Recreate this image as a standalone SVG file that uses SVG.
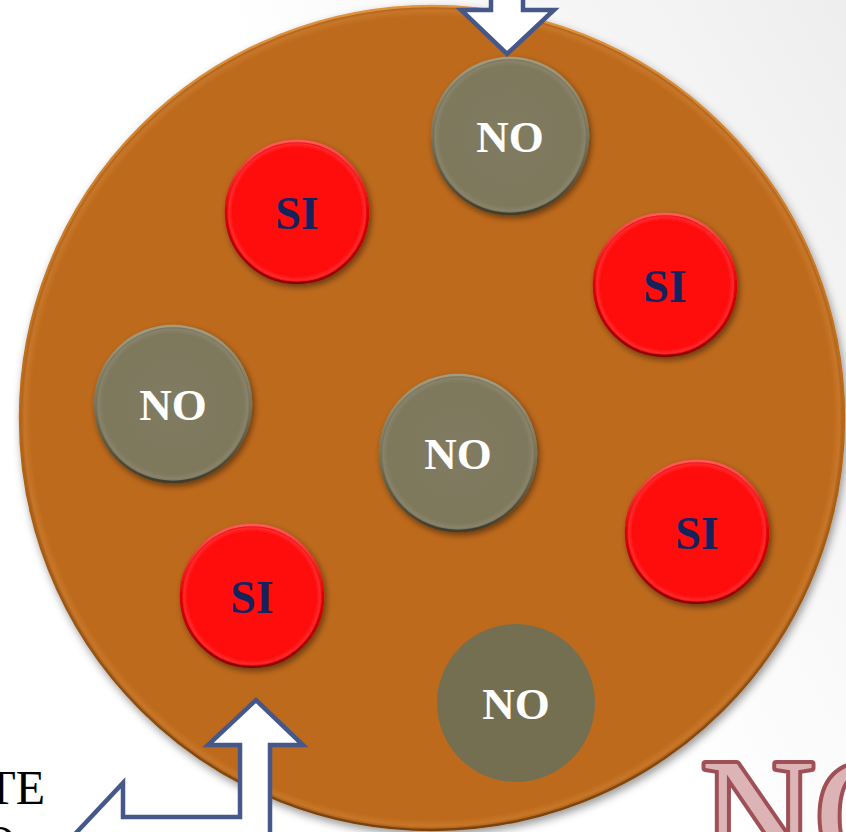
<svg xmlns="http://www.w3.org/2000/svg" width="846" height="832" viewBox="0 0 846 832">
  <defs>
    <linearGradient id="bg" x1="0" y1="0.6" x2="1" y2="0">
      <stop offset="0.45" stop-color="#FFFFFF"/>
      <stop offset="1" stop-color="#EEEEEE"/>
    </linearGradient>
    <radialGradient id="plate" cx="0.5" cy="0.5" r="0.5">
      <stop offset="0" stop-color="#BE6B1B"/>
      <stop offset="0.975" stop-color="#BE6B1B"/>
      <stop offset="0.99" stop-color="#C7762A"/>
      <stop offset="1" stop-color="#A35A14"/>
    </radialGradient>
    <linearGradient id="plateEdge" x1="0" y1="0" x2="0" y2="1">
      <stop offset="0" stop-color="#E0923F"/>
      <stop offset="0.5" stop-color="#B86818"/>
      <stop offset="1" stop-color="#7A420E"/>
    </linearGradient>
    <radialGradient id="gray" cx="0.5" cy="0.5" r="0.5">
      <stop offset="0" stop-color="#807B5F"/>
      <stop offset="0.9" stop-color="#7E795D"/>
      <stop offset="0.96" stop-color="#88836A"/>
      <stop offset="1" stop-color="#6A654B"/>
    </radialGradient>
    <radialGradient id="red" cx="0.5" cy="0.5" r="0.5">
      <stop offset="0" stop-color="#FF0A0A"/>
      <stop offset="0.9" stop-color="#FF0A0A"/>
      <stop offset="0.96" stop-color="#FF2A2A"/>
      <stop offset="1" stop-color="#D80000"/>
    </radialGradient>
    <linearGradient id="grayEdge" x1="0" y1="0" x2="0" y2="1">
      <stop offset="0" stop-color="#A29D80"/>
      <stop offset="0.5" stop-color="#7A7559"/>
      <stop offset="1" stop-color="#3F3C2B"/>
    </linearGradient>
    <linearGradient id="redEdge" x1="0" y1="0" x2="0" y2="1">
      <stop offset="0" stop-color="#FF5A5A"/>
      <stop offset="0.5" stop-color="#E00000"/>
      <stop offset="1" stop-color="#8A0000"/>
    </linearGradient>
    <filter id="shadow" x="-20%" y="-20%" width="140%" height="140%">
      <feDropShadow dx="2" dy="3" stdDeviation="3" flood-color="#000000" flood-opacity="0.45"/>
    </filter>
    <filter id="bigShadow" x="-10%" y="-10%" width="120%" height="120%">
      <feDropShadow dx="2" dy="4" stdDeviation="4" flood-color="#000000" flood-opacity="0.4"/>
    </filter>
  </defs>
  <style>
    .no { fill: url(#gray); stroke: url(#grayEdge); stroke-width: 2.5; filter: url(#shadow); }
    .si { fill: url(#red); stroke: url(#redEdge); stroke-width: 2.5; filter: url(#shadow); }
    .flat { fill: #756F52; }
    .tno { font-family: "Liberation Serif", "Times New Roman", serif; font-weight: bold; font-size: 45px; fill: #FFFFFF; text-anchor: middle; }
    .tsi { font-family: "Liberation Serif", "Times New Roman", serif; font-weight: bold; font-size: 46px; fill: #14235E; text-anchor: middle; }
    .arrow { fill: #FFFFFF; stroke: #46588A; stroke-width: 4.5; stroke-linejoin: miter; }
    .side { font-family: "Liberation Serif", "Times New Roman", serif; font-size: 48px; fill: #000000; text-anchor: end; }
    .big { font-family: "Liberation Serif", "Times New Roman", serif; font-size: 158px; fill: #DDB4B6; stroke: #9E5056; stroke-width: 8; stroke-linejoin: round; paint-order: stroke; }
  </style>

  <rect x="0" y="0" width="846" height="832" fill="url(#bg)"/>

  <g id="side-text">
    <text class="side" x="45" y="804">TE</text>
    <text class="side" x="16" y="859">O</text>
  </g>

  <g id="big-no">
    <text class="big" x="701" y="868">NO</text>
  </g>

  <g id="plate">
    <circle cx="432" cy="418" r="412" fill="url(#plate)" stroke="url(#plateEdge)" stroke-width="2.5" filter="url(#bigShadow)"/>
  </g>

  <g id="no-top">
    <circle class="no" cx="510" cy="136" r="78"/>
    <text class="tno" x="510" y="152">NO</text>
  </g>
  <g id="si-topleft">
    <circle class="si" cx="297" cy="212" r="71"/>
    <text class="tsi" x="297" y="229">SI</text>
  </g>
  <g id="si-right">
    <circle class="si" cx="665" cy="285" r="71"/>
    <text class="tsi" x="665" y="302">SI</text>
  </g>
  <g id="no-left">
    <circle class="no" cx="173" cy="404" r="78"/>
    <text class="tno" x="173" y="420">NO</text>
  </g>
  <g id="no-center">
    <circle class="no" cx="458" cy="453" r="78"/>
    <text class="tno" x="458" y="469">NO</text>
  </g>
  <g id="si-rightlow">
    <circle class="si" cx="697" cy="532" r="71"/>
    <text class="tsi" x="697" y="549">SI</text>
  </g>
  <g id="si-bottomleft">
    <circle class="si" cx="252" cy="596" r="71"/>
    <text class="tsi" x="252" y="613">SI</text>
  </g>
  <g id="no-bottom">
    <circle class="flat" cx="516" cy="703" r="79"/>
    <text class="tno" x="516" y="719">NO</text>
  </g>

  <g id="connectors">
    <path class="arrow" d="M491,-10 L491,10 L461,10 L507,54 L554,10 L523,10 L523,-10"/>
    <path class="arrow" d="M270,845 L270,745 L303,745 L256,700 L208,745 L240,745 L240,817 L123,817 L123,783 L60,850"/>
  </g>
</svg>
